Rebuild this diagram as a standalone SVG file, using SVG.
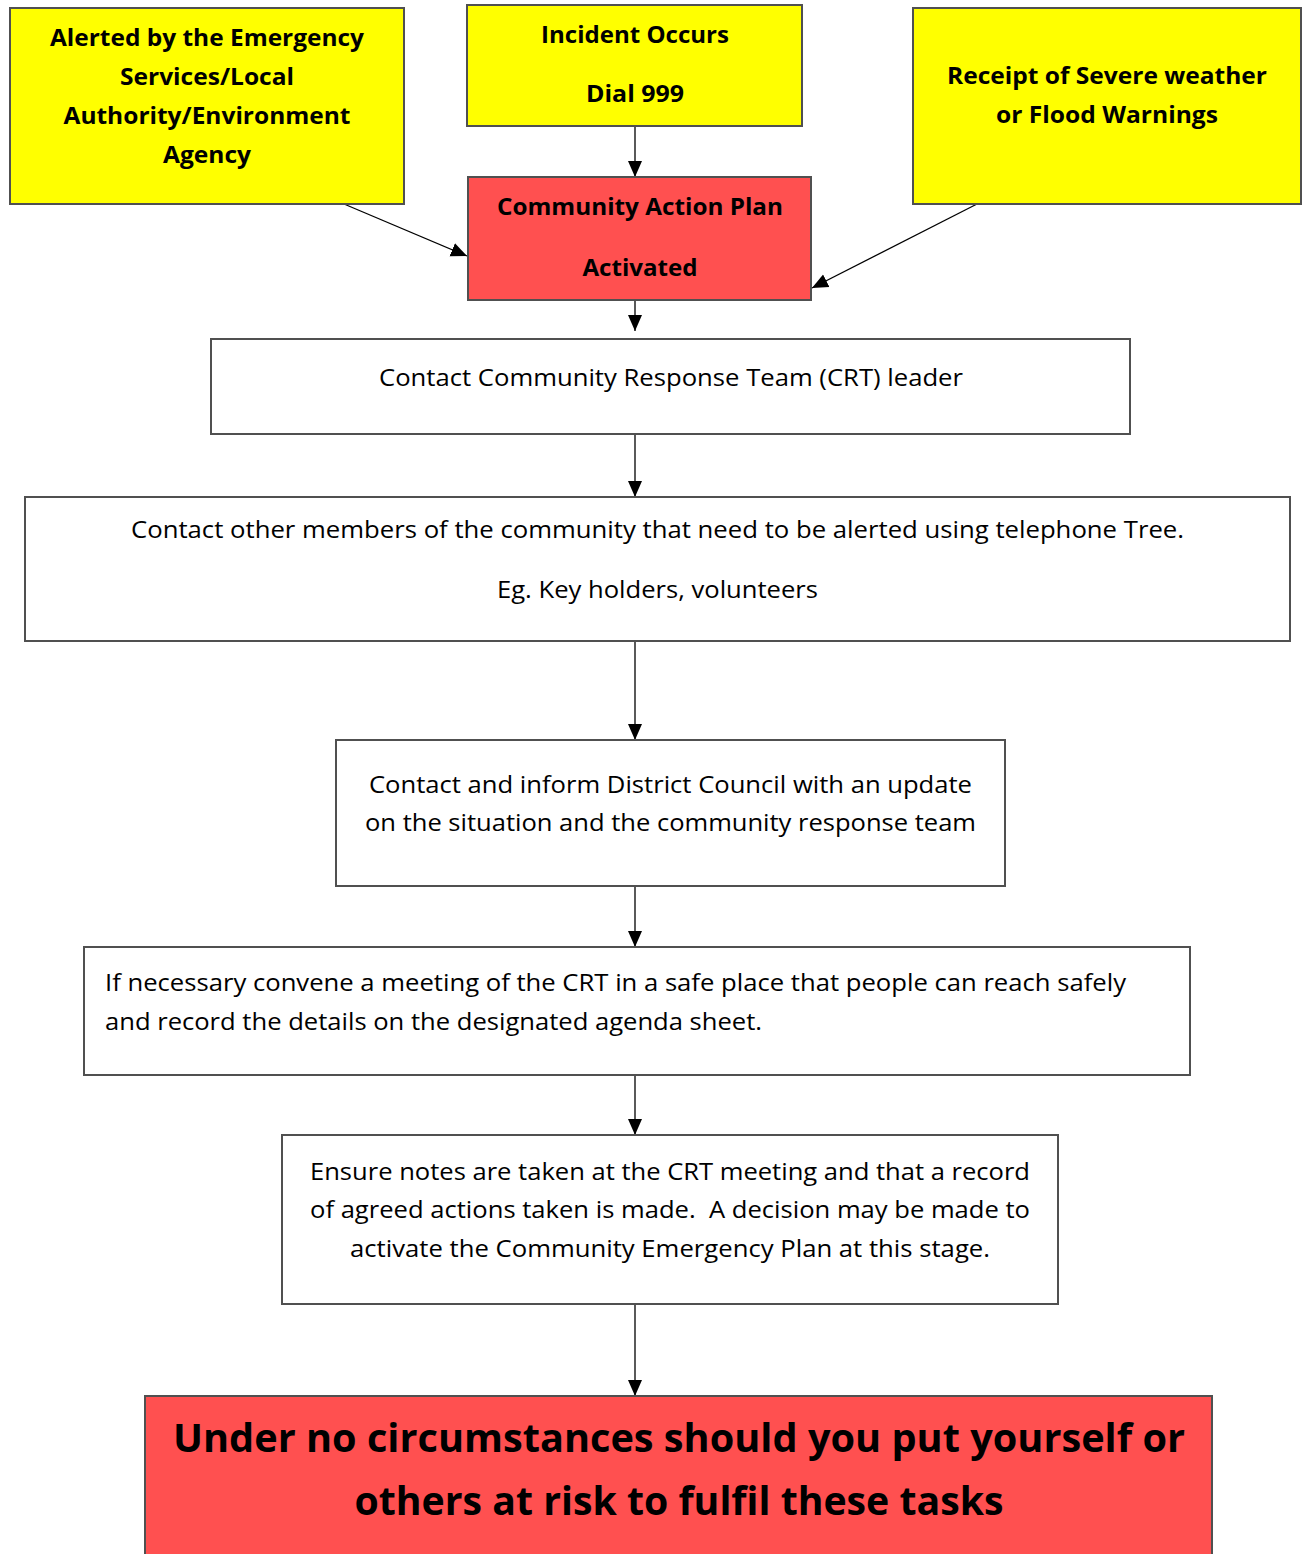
<svg xmlns="http://www.w3.org/2000/svg" width="1306" height="1554" viewBox="0 0 1306 1554">
<style>
.box{stroke:#505050;stroke-width:2}
.y{fill:#FFFF00}
.r{fill:#FF5050}
.w{fill:#FFFFFF}
text{font-family:"Open Sans","Noto Sans","Liberation Sans",sans-serif;fill:#000}
.b{font-weight:bold;font-size:23.5px;text-anchor:middle}
.n{font-size:24.5px;text-anchor:middle}
.l{font-size:24.5px}
.big{font-weight:bold;font-size:40px;text-anchor:middle}
.c{stroke:#000;stroke-width:1.3;fill:none}
</style>
<defs>
<marker id="ah" markerUnits="userSpaceOnUse" markerWidth="16" markerHeight="16" viewBox="0 0 16 16" refX="16" refY="8" orient="auto">
<path d="M0,1 L16,8 L0,15 Z" fill="#000"/>
</marker>
</defs>
<rect width="1306" height="1554" fill="#fff"/>
<g id="connectors">
<line class="c" x1="635" y1="126" x2="635" y2="177" marker-end="url(#ah)"/>
<line class="c" x1="344" y1="204" x2="467" y2="256" marker-end="url(#ah)"/>
<line class="c" x1="977" y1="204" x2="812" y2="288" marker-end="url(#ah)"/>
<line class="c" x1="635" y1="300" x2="635" y2="331" marker-end="url(#ah)"/>
<line class="c" x1="635" y1="434" x2="635" y2="497" marker-end="url(#ah)"/>
<line class="c" x1="635" y1="641" x2="635" y2="740" marker-end="url(#ah)"/>
<line class="c" x1="635" y1="886" x2="635" y2="947" marker-end="url(#ah)"/>
<line class="c" x1="635" y1="1075" x2="635" y2="1135" marker-end="url(#ah)"/>
<line class="c" x1="635" y1="1304" x2="635" y2="1396" marker-end="url(#ah)"/>
</g>
<g id="alerted">
<rect class="box y" x="10" y="8" width="394" height="196"/>
<text class="b" x="207" y="46" textLength="314" lengthAdjust="spacingAndGlyphs">Alerted by the Emergency</text>
<text class="b" x="207" y="85" textLength="174" lengthAdjust="spacingAndGlyphs">Services/Local</text>
<text class="b" x="207" y="124" textLength="287" lengthAdjust="spacingAndGlyphs">Authority/Environment</text>
<text class="b" x="207" y="163" textLength="88" lengthAdjust="spacingAndGlyphs">Agency</text>
</g>
<g id="incident">
<rect class="box y" x="467" y="5" width="335" height="121"/>
<text class="b" x="635" y="43" textLength="188" lengthAdjust="spacingAndGlyphs">Incident Occurs</text>
<text class="b" x="635" y="102" textLength="98" lengthAdjust="spacingAndGlyphs">Dial 999</text>
</g>
<g id="receipt">
<rect class="box y" x="913" y="8" width="388" height="196"/>
<text class="b" x="1107" y="84" textLength="320" lengthAdjust="spacingAndGlyphs">Receipt of Severe weather</text>
<text class="b" x="1107" y="123" textLength="222" lengthAdjust="spacingAndGlyphs">or Flood Warnings</text>
</g>
<g id="activated">
<rect class="box r" x="468" y="177" width="343" height="123"/>
<text class="b" x="640" y="215" textLength="286" lengthAdjust="spacingAndGlyphs">Community Action Plan</text>
<text class="b" x="640" y="276" textLength="115" lengthAdjust="spacingAndGlyphs">Activated</text>
</g>
<g id="crt-leader">
<rect class="box w" x="211" y="339" width="919" height="95"/>
<text class="n" x="671" y="385.5" textLength="584" lengthAdjust="spacingAndGlyphs">Contact Community Response Team (CRT) leader</text>
</g>
<g id="community">
<rect class="box w" x="25" y="497" width="1265" height="144"/>
<text class="n" x="657.5" y="537.5" textLength="1053" lengthAdjust="spacingAndGlyphs">Contact other members of the community that need to be alerted using telephone Tree.</text>
<text class="n" x="657.5" y="597.5" textLength="321" lengthAdjust="spacingAndGlyphs">Eg. Key holders, volunteers</text>
</g>
<g id="district">
<rect class="box w" x="336" y="740" width="669" height="146"/>
<text class="n" x="670.5" y="792.5" textLength="603" lengthAdjust="spacingAndGlyphs">Contact and inform District Council with an update</text>
<text class="n" x="670.5" y="830.5" textLength="611" lengthAdjust="spacingAndGlyphs">on the situation and the community response team</text>
</g>
<g id="meeting">
<rect class="box w" x="84" y="947" width="1106" height="128"/>
<text class="l" x="105" y="990.5" textLength="1021" lengthAdjust="spacingAndGlyphs">If necessary convene a meeting of the CRT in a safe place that people can reach safely</text>
<text class="l" x="105" y="1029.5" textLength="657" lengthAdjust="spacingAndGlyphs">and record the details on the designated agenda sheet.</text>
</g>
<g id="notes">
<rect class="box w" x="282" y="1135" width="776" height="169"/>
<text class="l" x="310" y="1179.5" textLength="720" lengthAdjust="spacingAndGlyphs">Ensure notes are taken at the CRT meeting and that a record</text>
<text class="l" x="310" y="1217.5" textLength="720" lengthAdjust="spacingAndGlyphs" xml:space="preserve">of agreed actions taken is made.  A decision may be made to</text>
<text class="n" x="670" y="1256.5" textLength="640" lengthAdjust="spacingAndGlyphs">activate the Community Emergency Plan at this stage.</text>
</g>
<g id="warning">
<rect class="box r" x="145" y="1396" width="1067" height="170"/>
<text class="big" x="679" y="1452" textLength="1012" lengthAdjust="spacingAndGlyphs">Under no circumstances should you put yourself or</text>
<text class="big" x="679" y="1515" textLength="649" lengthAdjust="spacingAndGlyphs">others at risk to fulfil these tasks</text>
</g>
</svg>
